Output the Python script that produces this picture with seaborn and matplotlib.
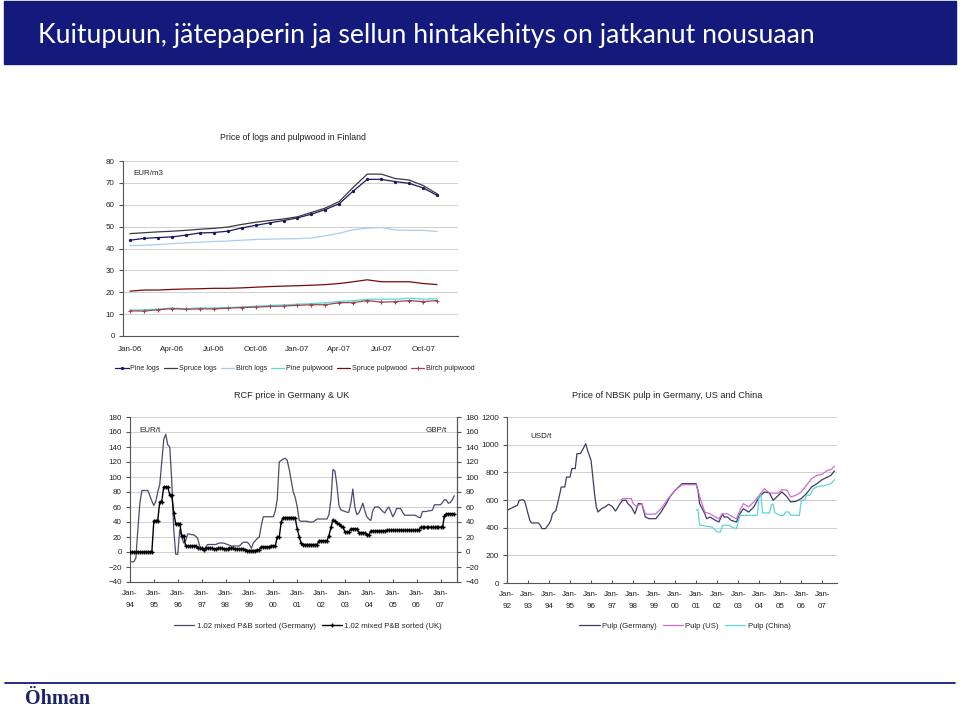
import numpy as np
import pandas as pd
import matplotlib
matplotlib.use("Agg")
import matplotlib.pyplot as plt
import seaborn as sns
from matplotlib.lines import Line2D
from matplotlib.patches import Rectangle

# ---------------- data ----------------
main_title = "Kuitupuun, jätepaperin ja sellun hintakehitys on jatkanut nousuaan"

# Chart 1: Price of logs and pulpwood in Finland (EUR/m3), Jan-06 .. Nov-07
finland_months = ["Jan-06", "Feb-06", "Mar-06", "Apr-06", "May-06", "Jun-06", "Jul-06", "Aug-06",
                  "Sep-06", "Oct-06", "Nov-06", "Dec-06", "Jan-07", "Feb-07", "Mar-07", "Apr-07",
                  "May-07", "Jun-07", "Jul-07", "Aug-07", "Sep-07", "Oct-07", "Nov-07"]
finland_tick_labels = ["Jan-06", "Apr-06", "Jul-06", "Oct-06", "Jan-07", "Apr-07", "Jul-07", "Oct-07"]
pine_logs = [43.8, 44.6, 45.0, 45.3, 46.1, 47.1, 47.3, 47.9, 49.4, 50.6, 51.7, 52.8,
             54.0, 55.7, 57.8, 60.5, 66.3, 71.6, 71.6, 70.6, 69.8, 67.7, 64.3]
spruce_logs = [46.8, 47.2, 47.6, 47.9, 48.3, 48.8, 49.2, 49.8, 51.0, 52.0, 52.8, 53.5,
               54.5, 56.5, 58.5, 61.5, 68.0, 74.0, 74.0, 72.0, 71.3, 68.8, 65.0]
birch_logs = [41.3, 41.5, 41.8, 42.2, 42.6, 42.9, 43.2, 43.4, 43.8, 44.1, 44.3, 44.4,
              44.5, 44.8, 45.8, 47.0, 48.6, 49.3, 49.6, 48.5, 48.3, 48.3, 47.8]
pine_pulpwood = [11.8, 12.0, 12.3, 12.8, 12.5, 12.8, 12.8, 13.0, 13.3, 13.6, 14.0, 14.2,
                 14.5, 14.8, 15.2, 15.8, 16.2, 16.8, 16.8, 16.8, 17.3, 16.8, 17.0]
spruce_pulpwood = [20.5, 21.0, 21.0, 21.3, 21.5, 21.6, 21.8, 21.8, 22.0, 22.3, 22.6, 22.8,
                   23.0, 23.2, 23.5, 24.0, 24.8, 25.7, 24.8, 24.8, 24.8, 24.0, 23.5]
birch_pulpwood = [11.5, 11.4, 12.0, 12.5, 12.2, 12.4, 12.4, 12.7, 13.0, 13.2, 13.5, 13.7,
                  14.0, 14.3, 14.3, 15.2, 15.3, 16.2, 15.5, 15.7, 16.2, 15.7, 16.2]

# Chart 2: RCF price in Germany (EUR/t) & UK (GBP/t), monthly from Jan-94
rcf_germany = [
    -13, -13, -13, -8, 30, 65, 82, 82, 82, 82, 75, 68,          # 1994
    62, 68, 80, 90, 120, 150, 157, 143, 140, 95, 30, -3,        # 1995
    -3, 30, 20, 12, 15, 24, 24, 23, 23, 21, 18, 8,              # 1996
    4, 2, 6, 10, 10, 10, 10, 10, 11, 12, 12, 12,                # 1997
    11, 10, 9, 8, 8, 8, 8, 8, 11, 13, 13, 13,                   # 1998
    10, 5, 12, 15, 18, 20, 35, 47, 47, 47, 47, 47,              # 1999
    47, 55, 70, 120, 122, 124, 125, 122, 110, 95, 80, 73,       # 2000
    60, 42, 41, 41, 41, 41, 40, 40, 40, 42, 44, 44,             # 2001
    44, 44, 44, 44, 50, 70, 110, 108, 88, 62, 56, 55,           # 2002
    54, 53, 53, 65, 84, 60, 50, 52, 58, 65, 55, 47,             # 2003
    44, 42, 55, 60, 60, 60, 57, 54, 52, 57, 60, 54,             # 2004
    47, 52, 58, 58, 58, 53, 49, 49, 49, 49, 49, 49,             # 2005
    48, 46, 46, 54, 54, 54, 55, 55, 56, 63, 63, 63,             # 2006
    63, 66, 70, 69, 65, 66, 70, 75]                             # 2007
rcf_uk = [
    0, 0, 0, 0, 0, 0, 0, 0, 0, 0, 0, 0,                         # 1994
    42, 42, 42, 67, 67, 87, 87, 87, 76, 76, 52, 38,             # 1995
    38, 38, 22, 22, 8, 8, 8, 8, 8, 8, 5, 5,                     # 1996
    5, 3, 5, 5, 5, 5, 4, 4, 5, 5, 5, 4,                         # 1997
    4, 4, 5, 5, 5, 4, 4, 4, 4, 4, 3, 2,                         # 1998
    2, 2, 2, 2, 3, 3, 7, 7, 7, 7, 7, 8,                         # 1999
    8, 8, 20, 20, 40, 46, 46, 46, 46, 46, 46, 45,               # 2000
    31, 20, 12, 10, 10, 10, 10, 10, 10, 10, 10, 15,             # 2001
    15, 15, 15, 15, 22, 33, 43, 41, 39, 37, 35, 33,             # 2002
    27, 27, 27, 31, 31, 31, 31, 26, 26, 26, 25, 23,             # 2003
    23, 28, 28, 28, 28, 28, 28, 28, 28, 29, 29, 29,             # 2004
    29, 29, 29, 29, 29, 29, 29, 29, 29, 29, 29, 29,             # 2005
    29, 29, 33, 33, 33, 33, 33, 33, 33, 33, 33, 33,             # 2006
    33, 33, 48, 51, 51, 51, 51, 51]                             # 2007
rcf_years = ["94", "95", "96", "97", "98", "99", "00", "01", "02", "03", "04", "05", "06", "07"]

# Chart 3: Price of NBSK pulp (USD/t)
pulp_de_dates = ["1992-01", "1992-05", "1992-07", "1992-08", "1992-10", "1992-11", "1992-12",
                 "1993-01", "1993-02", "1993-03", "1993-07", "1993-08", "1993-09", "1993-11",
                 "1994-01", "1994-02", "1994-03", "1994-05", "1994-07", "1994-08", "1994-10",
                 "1994-11", "1995-01", "1995-02", "1995-04", "1995-05", "1995-07", "1995-09",
                 "1995-10", "1995-11", "1996-01", "1996-02", "1996-03", "1996-04", "1996-05",
                 "1996-07", "1996-09", "1996-11", "1997-01", "1997-03", "1997-05", "1997-07",
                 "1997-09", "1997-10", "1997-12", "1998-02", "1998-04", "1998-06", "1998-08",
                 "1998-10", "1999-02", "1999-05", "1999-08", "1999-10", "2000-01", "2000-05",
                 "2001-01", "2001-02", "2001-03", "2001-06", "2001-07", "2001-09", "2001-12",
                 "2002-02", "2002-04", "2002-05", "2002-07", "2002-09", "2002-12", "2003-02",
                 "2003-04", "2003-07", "2003-10", "2004-01", "2004-04", "2004-07", "2004-09",
                 "2004-12", "2005-02", "2005-05", "2005-07", "2005-10", "2006-01", "2006-04",
                 "2006-07", "2006-10", "2007-01", "2007-04", "2007-06", "2007-08"]
pulp_de = [525, 550, 562, 598, 602, 593, 550,
           500, 453, 434, 434, 417, 393, 393,
           429, 453, 500, 525, 634, 694, 694,
           766, 766, 827, 827, 935, 935, 983,
           1007, 959, 887, 766, 646, 550, 513,
           537, 550, 569, 554, 520, 562, 598,
           598, 574, 550, 500, 574, 574, 477,
           465, 465, 513, 574, 622, 670, 718,
           718, 670, 574, 500, 465, 477, 453,
           441, 500, 477, 477, 453, 441, 500,
           537, 513, 550, 622, 658, 650, 598,
           634, 658, 622, 586, 590, 610, 646,
           694, 718, 747, 766, 778, 810]
pulp_us_dates = ["1997-06", "1997-07", "1997-12", "1998-01", "1998-03", "1998-06", "1998-08",
                 "1998-11", "1999-02", "1999-05", "1999-09", "2000-01", "2000-05", "2001-01",
                 "2001-04", "2001-06", "2001-09", "2001-12", "2002-02", "2002-04", "2002-07",
                 "2002-10", "2002-12", "2003-02", "2003-04", "2003-07", "2003-10", "2004-01",
                 "2004-04", "2004-07", "2004-12", "2005-02", "2005-05", "2005-07", "2005-10",
                 "2006-01", "2006-04", "2006-07", "2006-10", "2007-01", "2007-04", "2007-06",
                 "2007-08"]
pulp_us = [598, 610, 610, 574, 554, 574, 500,
           496, 500, 537, 610, 670, 711, 711,
           586, 513, 500, 477, 465, 500, 500,
           477, 465, 525, 574, 550, 586, 634,
           682, 650, 650, 675, 670, 622, 634,
           658, 706, 754, 778, 786, 815, 819,
           844]
pulp_cn_dates = ["2001-01", "2001-02", "2001-03", "2001-07", "2001-10", "2002-01", "2002-03",
                 "2002-04", "2002-08", "2002-10", "2002-12", "2003-02", "2003-12", "2004-01",
                 "2004-02", "2004-03", "2004-07", "2004-08", "2004-09", "2004-10", "2005-01",
                 "2005-03", "2005-04", "2005-06", "2005-07", "2005-12", "2006-01", "2006-03",
                 "2006-04", "2006-06", "2006-08", "2006-11", "2007-03", "2007-06", "2007-08"]
pulp_cn = [530, 530, 420, 410, 405, 369, 369,
           417, 417, 400, 393, 489, 489, 634,
           634, 506, 506, 569, 569, 506, 489,
           489, 513, 513, 489, 489, 598, 598,
           634, 634, 682, 699, 706, 718, 747]
pulp_years = ["92", "93", "94", "95", "96", "97", "98", "99", "00", "01", "02", "03", "04", "05", "06", "07"]

# ---------------- style ----------------
sns.set_style("white")
plt.rcParams["font.family"] = ["Liberation Sans", "DejaVu Sans"]
NAVY = "#141a7c"
GRID = "#c8c8c8"
TXT = "#222222"
TICK_FS = 5.8

W, H = 960, 711
fig = plt.figure(figsize=(W / 100, H / 100), dpi=100)


def box(l, t, r, b):
    return [l / W, 1 - b / H, (r - l) / W, (b - t) / H]


def fx(x):
    return x / W


def fy(y):
    return 1 - y / H


# title bar
fig.add_artist(Rectangle((fx(4), fy(64)), (956 - 4) / W, 63 / H, transform=fig.transFigure,
                         color=NAVY, zorder=0))
fig.text(fx(38), fy(35), main_title, color="white", fontsize=19.2,
         family=["Lato", "DejaVu Sans"], va="center", ha="left")

# footer
fig.add_artist(Line2D([fx(5), fx(955)], [fy(683), fy(683)], transform=fig.transFigure,
                      color=NAVY, lw=1.3))
fig.text(fx(25), fy(699), "Öhman", color="#1c2466", fontsize=14.5, fontweight="bold",
         family=["Liberation Serif", "DejaVu Serif"], va="center", ha="left")


def style_axis(ax, spines=("left", "bottom")):
    for s in ["left", "right", "top", "bottom"]:
        ax.spines[s].set_visible(s in spines)
        ax.spines[s].set_color("#555555")
        ax.spines[s].set_linewidth(0.8)
    ax.grid(axis="y", color=GRID, lw=0.6)
    ax.grid(axis="x", visible=False)
    ax.set_axisbelow(True)
    ax.set_xlabel("")
    ax.set_ylabel("")


# ---------------- chart 1 ----------------
ax1 = fig.add_axes(box(123, 161, 458, 336))
df1 = pd.DataFrame({"month": finland_months, "Pine logs": pine_logs, "Spruce logs": spruce_logs,
                    "Birch logs": birch_logs, "Pine pulpwood": pine_pulpwood,
                    "Spruce pulpwood": spruce_pulpwood, "Birch pulpwood": birch_pulpwood})
df1["pos"] = np.arange(len(df1))
series1 = [
    ("Pine logs", "#1a1a5e", dict(marker="o", markersize=2.4, markeredgewidth=0)),
    ("Spruce logs", "#3a3a3a", dict()),
    ("Birch logs", "#a8cdef", dict()),
    ("Pine pulpwood", "#55dada", dict()),
    ("Spruce pulpwood", "#7a0a0a", dict()),
    ("Birch pulpwood", "#a04450", dict(marker="+", markersize=3.5, markeredgewidth=0.8,
                                       markeredgecolor="#a04450")),
]
for name, col, kw in series1:
    sns.lineplot(data=df1, x="pos", y=name, ax=ax1, color=col, lw=0.9, label=name, **kw)
ax1.set_xlim(-0.5, 23.5)
ax1.set_ylim(0, 80)
ax1.set_yticks(np.arange(0, 81, 10))
style_axis(ax1)
ax1.set_xticks(np.arange(-0.5, 24, 3))
ax1.set_xticklabels([])
ax1.set_xticks([finland_months.index(l) for l in finland_tick_labels], minor=True)
ax1.set_xticklabels(finland_tick_labels, minor=True)
ax1.tick_params(axis="x", which="major", direction="in", length=3, color="#555555")
ax1.tick_params(axis="x", which="minor", length=0, pad=7, labelsize=TICK_FS, labelcolor=TXT)
ax1.tick_params(axis="y", direction="out", length=3, pad=3, labelsize=TICK_FS,
                labelcolor=TXT, left=True, color="#555555")
h1, l1 = ax1.get_legend_handles_labels()
ax1.get_legend().remove()
fig.legend(h1, l1, loc="center", bbox_to_anchor=(fx(295), fy(369)), ncol=6, frameon=False,
           fontsize=5.1, handlelength=1.9, columnspacing=0.55, handletextpad=0.25)
ax1.text(0.03, 0.93, "EUR/m3", transform=ax1.transAxes, fontsize=5.8, color=TXT, va="center")
fig.text(fx(293), fy(137), "Price of logs and pulpwood in Finland", ha="center", va="center",
         fontsize=6.3, color=TXT)

# ---------------- chart 2 ----------------
ax2 = fig.add_axes(box(130, 417, 457, 582))
rcf_dates = pd.date_range("1994-01-01", periods=len(rcf_germany), freq="MS")
df2 = pd.DataFrame({"date": rcf_dates, "Germany": rcf_germany, "UK": rcf_uk})
sns.lineplot(data=df2, x="date", y="Germany", ax=ax2, color="#4a4a6e", lw=0.9,
             label="1.02 mixed P&B sorted (Germany)")
ax2b = ax2.twinx()
sns.lineplot(data=df2, x="date", y="UK", ax=ax2b, color="#000000", lw=1.0, marker="+",
             markersize=2.8, markeredgewidth=1.0, markeredgecolor="#000000",
             label="1.02 mixed P&B sorted (UK)")
xl2 = (pd.Timestamp("1994-01-01"), pd.Timestamp("2007-09-10"))
for a in (ax2, ax2b):
    a.set_xlim(*xl2)
    a.set_ylim(-40, 180)
    a.set_yticks(np.arange(-40, 181, 20))
style_axis(ax2, spines=("left", "bottom", "right"))
ax2b.grid(False)
for s in ["left", "right", "top", "bottom"]:
    ax2b.spines[s].set_visible(s == "right")
ax2b.spines["right"].set_color("#555555")
ax2b.spines["right"].set_linewidth(0.8)
ax2b.set_ylabel("")
ax2b.set_xlabel("")
yr_ticks2 = [pd.Timestamp(f"{1994 + i}-01-01") for i in range(len(rcf_years))]
ax2.set_xticks(yr_ticks2)
ax2.set_xticklabels([f"Jan-\n{y}" for y in rcf_years], linespacing=1.9)
ax2.tick_params(axis="x", direction="in", length=2.5, pad=6, labelsize=TICK_FS,
                labelcolor=TXT, color="#555555", bottom=True)
ax2.tick_params(axis="y", direction="out", length=3, pad=3, labelsize=TICK_FS,
                labelcolor=TXT, left=True, color="#555555")
ax2b.tick_params(axis="y", direction="out", length=3, pad=3, labelsize=TICK_FS,
                 labelcolor=TXT, right=True, color="#555555")
hA, lA = ax2.get_legend_handles_labels()
hB, lB = ax2b.get_legend_handles_labels()
ax2.get_legend().remove()
ax2b.get_legend().remove()
fig.legend(hA + hB, lA + lB, loc="center", bbox_to_anchor=(fx(308), fy(626)), ncol=2,
           frameon=False, fontsize=5.6, handlelength=2.6, columnspacing=0.8, handletextpad=0.3)
ax2.text(0.03, 0.92, "EUR/t", transform=ax2.transAxes, fontsize=5.8, color=TXT, va="center")
ax2.text(0.97, 0.92, "GBP/t", transform=ax2.transAxes, fontsize=5.8, color=TXT, va="center",
         ha="right")
fig.text(fx(292), fy(395), "RCF price in Germany & UK", ha="center", va="center",
         fontsize=6.6, color=TXT)

# ---------------- chart 3 ----------------
ax3 = fig.add_axes(box(507, 417, 837, 583))
df_de = pd.DataFrame({"date": pd.to_datetime(pulp_de_dates), "v": pulp_de})
df_us = pd.DataFrame({"date": pd.to_datetime(pulp_us_dates), "v": pulp_us})
df_cn = pd.DataFrame({"date": pd.to_datetime(pulp_cn_dates), "v": pulp_cn})
sns.lineplot(data=df_de, x="date", y="v", ax=ax3, color="#3c3c66", lw=0.9, label="Pulp (Germany)")
sns.lineplot(data=df_us, x="date", y="v", ax=ax3, color="#cc6fcc", lw=0.9, label="Pulp (US)")
sns.lineplot(data=df_cn, x="date", y="v", ax=ax3, color="#5fd6d6", lw=0.9, label="Pulp (China)")
ax3.set_xlim(pd.Timestamp("1992-01-01"), pd.Timestamp("2007-09-15"))
ax3.set_ylim(0, 1200)
ax3.set_yticks(np.arange(0, 1201, 200))
style_axis(ax3)
yr_ticks3 = [pd.Timestamp(f"{1992 + i}-01-01") for i in range(len(pulp_years))]
ax3.set_xticks(yr_ticks3)
ax3.set_xticklabels([f"Jan-\n{y}" for y in pulp_years], linespacing=1.9)
ax3.tick_params(axis="x", direction="in", length=2.5, pad=6, labelsize=TICK_FS,
                labelcolor=TXT, color="#555555", bottom=True)
ax3.tick_params(axis="y", direction="out", length=3, pad=3, labelsize=TICK_FS,
                labelcolor=TXT, left=True, color="#555555")
h3, l3 = ax3.get_legend_handles_labels()
ax3.get_legend().remove()
fig.legend(h3, l3, loc="center", bbox_to_anchor=(fx(685), fy(626)), ncol=3, frameon=False,
           fontsize=5.6, handlelength=2.6, columnspacing=0.8, handletextpad=0.3)
ax3.text(0.07, 0.88, "USD/t", transform=ax3.transAxes, fontsize=5.8, color=TXT, va="center")
fig.text(fx(667), fy(395), "Price of NBSK pulp in Germany, US and China", ha="center",
         va="center", fontsize=6.6, color=TXT)

fig.savefig("out.png", dpi=100)
